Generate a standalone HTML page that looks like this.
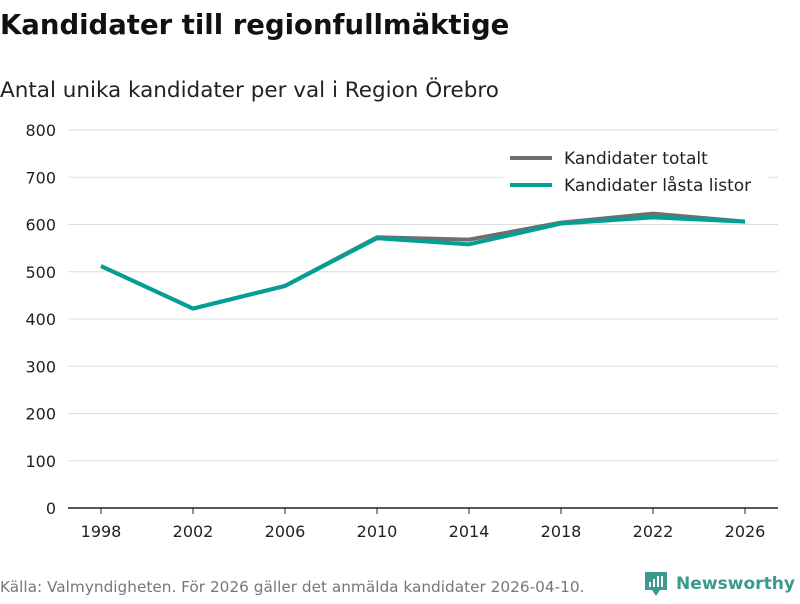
<!DOCTYPE html>
<html><head><meta charset="utf-8"><style>
body{margin:0;width:800px;height:600px;background:#fff;font-family:"DejaVu Sans","Liberation Sans",sans-serif;overflow:hidden}
</style></head><body>
<svg id="c" width="800" height="600" xmlns="http://www.w3.org/2000/svg">
<text x="0" y="34" font-size="27.5" font-weight="bold" fill="#111">Kandidater till regionfullmäktige</text>
<text x="0" y="97" font-size="21.5" fill="#222">Antal unika kandidater per val i Region Örebro</text>
<g id="grid"></g><g id="lines"></g>
<g>
<rect x="503" y="146" width="265" height="52" fill="#fff"/>
<line x1="510" y1="158" x2="552" y2="158" stroke="#6e6d72" stroke-width="4"/>
<text x="564" y="164" font-size="17" fill="#222">Kandidater totalt</text>
<line x1="510" y1="185" x2="552" y2="185" stroke="#00a096" stroke-width="4"/>
<text x="564" y="191" font-size="17" fill="#222">Kandidater låsta listor</text>
</g>
<text x="0" y="592" font-size="15.3" fill="#777">Källa: Valmyndigheten. För 2026 gäller det anmälda kandidater 2026-04-10.</text>
<g>
<path d="M645 572h22v18h-7l-4 6-4-6h-7z" fill="#3a9a8f"/>
<rect x="649" y="582" width="2" height="5" fill="#fff"/><rect x="653" y="579" width="2" height="8" fill="#fff"/><rect x="657" y="576" width="2" height="11" fill="#fff"/><rect x="661" y="576" width="2" height="11" fill="#fff"/>
<text x="676" y="589" font-size="17" font-weight="bold" fill="#3a9a8f" textLength="119" lengthAdjust="spacingAndGlyphs">Newsworthy</text>
</g>
</svg>
<script>
const years=[1998,2002,2006,2010,2014,2018,2022,2026];
const totalt=[512,422,470,573,568,604,623,606];
const lasta=[512,422,470,571,558,602,615,606];
const yTicks=[0,100,200,300,400,500,600,700,800];
const NS="http://www.w3.org/2000/svg";
const X=y=>101+(y-1998)*(745-101)/28;
const Y=v=>508-v*378/800;
const g=document.getElementById('grid'),L=document.getElementById('lines');
function mk(t,a,p){const e=document.createElementNS(NS,t);for(const k in a)e.setAttribute(k,a[k]);p.appendChild(e);return e;}
yTicks.forEach(v=>{
 if(v>0){const l=mk('line',{x1:68,x2:778,y1:Y(v),y2:Y(v),stroke:'#ddd','stroke-width':1},g);
 
 }
 const t=mk('text',{x:56,y:Y(v)+6,'text-anchor':'end','font-size':16,fill:'#222'},g);t.textContent=v;
 
 
});
const ax=mk('line',{x1:68,x2:778,y1:Y(0),y2:Y(0),stroke:'#222','stroke-width':1.5},g);


years.forEach(y=>{
 mk('line',{x1:X(y),x2:X(y),y1:Y(0),y2:Y(0)+6,stroke:'#222'},g);
 const t=mk('text',{x:X(y),y:537,'text-anchor':'middle','font-size':16,fill:'#222'},g);t.textContent=y;
 
 
});
function line(d,c,n){const p=mk('polyline',{points:d.map((v,i)=>X(years[i])+','+Y(v)).join(' '),fill:'none',stroke:c,'stroke-width':4,'stroke-linejoin':'round'},L);
 
 }
line(totalt,'#6e6d72','line-totalt');
line(lasta,'#00a096','line-lasta');
</script>
</body></html>
